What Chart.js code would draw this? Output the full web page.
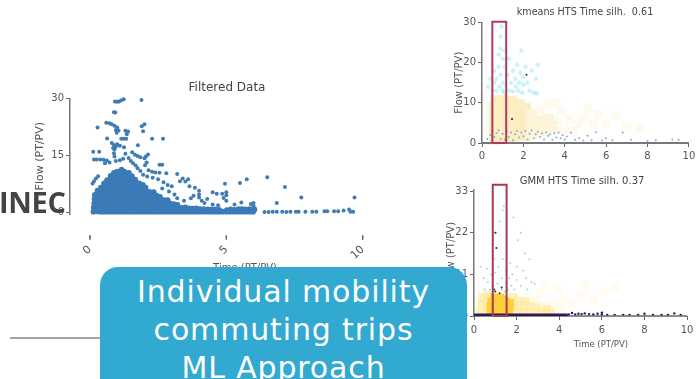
<!DOCTYPE html>
<html lang="en">
<head>
<meta charset="utf-8">
<title>Individual mobility</title>
<script src="https://cdn.jsdelivr.net/npm/chart.js@4/dist/chart.umd.min.js"></script>
<style>
  html, body { margin: 0; background: #fff; overflow: hidden; }
  body { width: 697px; height: 379px; position: relative; }
  .plot { position: absolute; filter: blur(0.55px); }
  #inec { position: absolute; left: -1px; top: 182px; font: bold 29px "Open Sans"; color: #444; letter-spacing: -0.3px; }
  #rule { position: absolute; left: 10px; top: 337px; width: 95px; height: 2px; background: #a5a5a5; }
  #box { position: absolute; left: 100px; top: 267px; width: 367px; height: 130px; border-radius: 18px; background: #31a9d0;
         color: #fff; font: 30px/38px "DejaVu Sans"; letter-spacing: 0.85px; text-align: center; padding-top: 6px; box-sizing: border-box; }
</style>
</head>
<body>
<div class="plot" style="left:30px;top:70px;width:394px;height:204px"><canvas id="filtered"></canvas></div>
<div class="plot" style="left:440px;top:0;width:290px;height:170px"><canvas id="kmeans"></canvas></div>
<div class="plot" style="left:430px;top:170px;width:304px;height:180px"><canvas id="gmm"></canvas></div>
<div id="inec">INEC</div>
<div id="rule"></div>
<div id="box">Individual mobility<br>commuting trips<br>ML Approach</div>

<script>
// left chart
var filteredTitle = 'Filtered Data';
var filteredXTicks = [0, 5, 10];
var filteredYTicks = [0, 15, 30];
var filteredMarkX = [0, 0, null, 5, 5, null, 10, 10];
var filteredMarkY = [-5.9, -7, null, -5.9, -7, null, -5.9, -7];
var filteredSparse = [
  [.92,29.2],[1,29.1],[1.07,29.2],[1.15,29.5],[1.24,29.8],[1.89,29.6],[.88,26.4],[.93,26.3],[.28,22.4],
  [.6,23.6],[.72,23.5],[.8,23.2],[.9,22.8],[1,22.4],[.95,21.7],[1.05,21.6],[.98,21],[1.3,21.5],[1.4,21.3],[1.35,20.6],
  [2,23.2],[1.9,22.7],[1.95,21.4],[2.28,19.4],[2.68,19.4],[.63,19.5],[1.15,19.4],[1.25,19.4],[1.33,19.4],
  [.8,18.3],[.88,17.8],[.95,17.3],[.85,17],[1,18],[.9,16.6],[.12,16],[.34,16],[1.76,17.7],[1.1,17.6],[1.25,17.2],
  [2.13,15.3],[2.05,14.8],[2,14.3],[.15,14],[.25,14],[.38,14],[.5,13.9],[.62,13.7],[.88,15.6],[.9,14.8],[1.3,15.5],[1.55,15.9],[1.65,15.2],[1.75,14.9],[1.85,14.6],
  [.55,13],[.72,13.2],[.95,13.6],[1.1,13.8],[1.22,14.2],[1.42,14.4],[1.5,13.6],[1.58,13],[1.68,12.4],[2.08,13.2],[2.02,12.5],
  [2.55,12.6],[2.65,12.6],[1.75,11.7],[1.85,11],[2.15,11.2],[2.28,10.8],[2.4,10.6],[2.55,10.5],[2.8,10.4],
  [1.95,10],[2.1,9.5],[2.3,9.2],[2.5,8.8],[3.2,10.2],[3.4,9],[3.3,8.3],[3.5,8.2],[3.6,8.8],[2.7,8],[2.85,7.3],[3,7],
  [.1,7.7],[.15,8.3],[.22,9],[.3,9.6],[3.65,7],[3.85,6.6],[4,5.8],[3.8,4.5],[3.7,3.8],[4,4.8],[4,4],[4.1,3.2],[4.3,3.6],
  [4.5,5.4],[4.65,5],[4.85,5],[4.9,3.9],[4.95,7.6],[5,5.4],[5,4.6],[5,3.2],[5.5,7.8],[5.55,2.7],[5.75,8.8],[6.5,9.3],[6.85,2.6],[7.15,6.8],[7.75,4],[9.7,4],
  [4.2,2.6],[4.5,2.2],[4.7,2],[5.3,2.2],[5.9,2.3],[6,2.6],[6,1.8],[3.1,4.8],[3.2,3.8],[3.45,3.2],[2.9,5.6],[2.65,6.4]
];
var filteredDense = [
  [.13,.3],[.14,1.4],[.16,2.5],[.17,3.6],[.18,4.7],[.24,.4],[.26,1.5],[.25,2.6],[.27,3.7],[.26,4.9],[.28,5.8],
  [.37,.3],[.38,1.3],[.36,2.4],[.39,3.5],[.37,4.5],[.38,5.6],[.4,6.6],[.49,.3],[.5,1.4],[.48,2.5],[.51,3.6],[.5,4.6],[.49,5.7],[.5,6.7],[.52,7.7],
  [.62,.3],[.63,1.3],[.61,2.4],[.64,3.4],[.62,4.5],[.63,5.5],[.61,6.6],[.64,7.6],[.63,8.6],[.75,.3],[.76,1.4],[.74,2.5],[.77,3.6],[.75,4.6],[.76,5.7],[.74,6.7],[.77,7.8],[.75,8.8],[.76,9.7],
  [.88,.3],[.89,1.3],[.87,2.4],[.9,3.4],[.88,4.5],[.89,5.5],[.87,6.6],[.9,7.6],[.88,8.7],[.89,9.7],[.88,10.5],
  [1.01,.3],[1.02,1.4],[1,2.5],[1.03,3.5],[1.01,4.6],[1.02,5.6],[1,6.7],[1.03,7.7],[1.01,8.8],[1.02,9.8],[1,10.8],
  [1.14,.3],[1.15,1.3],[1.13,2.4],[1.16,3.4],[1.14,4.5],[1.15,5.5],[1.13,6.6],[1.16,7.6],[1.14,8.7],[1.15,9.7],[1.13,10.8],[1.16,11.3],
  [1.27,.3],[1.28,1.4],[1.26,2.5],[1.29,3.5],[1.27,4.6],[1.28,5.6],[1.26,6.7],[1.29,7.7],[1.27,8.8],[1.28,9.8],[1.26,10.8],
  [1.4,.3],[1.41,1.3],[1.39,2.4],[1.42,3.4],[1.4,4.5],[1.41,5.5],[1.39,6.6],[1.42,7.6],[1.4,8.7],[1.41,9.7],[1.43,10.5],
  [1.53,.3],[1.54,1.4],[1.52,2.5],[1.55,3.5],[1.53,4.6],[1.54,5.6],[1.52,6.7],[1.55,7.7],[1.53,8.8],[1.54,9.6],
  [1.66,.3],[1.67,1.3],[1.65,2.4],[1.68,3.4],[1.66,4.5],[1.67,5.5],[1.65,6.6],[1.68,7.6],[1.66,8.7],
  [1.79,.3],[1.8,1.4],[1.78,2.5],[1.81,3.5],[1.79,4.6],[1.8,5.6],[1.78,6.7],[1.81,7.7],[1.92,.3],[1.93,1.3],[1.91,2.4],[1.94,3.4],[1.92,4.5],[1.93,5.5],[1.91,6.6],[1.94,7.3],
  [2.05,.3],[2.06,1.4],[2.04,2.5],[2.07,3.5],[2.05,4.6],[2.06,5.6],[2.04,6.6],[2.18,.3],[2.19,1.3],[2.17,2.4],[2.2,3.4],[2.18,4.5],[2.19,5.5],
  [2.31,.3],[2.32,1.4],[2.3,2.5],[2.33,3.5],[2.31,4.6],[2.34,5.4],[2.44,.3],[2.45,1.3],[2.43,2.4],[2.46,3.4],[2.44,4.5],
  [2.57,.3],[2.58,1.4],[2.56,2.5],[2.59,3.5],[2.57,4.2],[2.7,.3],[2.71,1.3],[2.69,2.4],[2.72,3.3],[2.83,.3],[2.84,1.4],[2.82,2.5],[2.85,3.3],
  [2.96,.3],[2.97,1.3],[2.95,2.4],[3.09,.3],[3.1,1.4],[3.08,2.3],[3.22,.3],[3.23,1.3],[3.21,2.1],[3.35,.3],[3.36,1.3],[3.48,.3],[3.5,1.4],[3.62,.3],[3.63,1.2],
  [3.75,.3],[3.76,1.1],[3.88,.3],[3.9,1.2],[4.02,.3],[4.04,1],[4.16,.3],[4.18,1],[4.3,.3],[4.32,.9],[4.44,.3],[4.46,.9],[4.58,.3],[4.6,.9],[4.72,.3],[4.74,.8],[4.86,.3],
  [5,.3],[5.02,.7],[5.14,.3],[5.16,.9],[5.28,.3],[5.3,.8],[5.42,.3],[5.44,1],[5.56,.3],[5.58,1],[5.7,.3],[5.72,.9],[5.84,.3],[5.86,1],[5.98,.3],[6.03,.9]
];
var filteredTail = [
  [6.4,.2],[6.55,.2],[6.7,.3],[6.85,.3],[7.05,.3],[7.2,.2],[7.35,.3],[7.55,.3],[7.65,.3],[7.9,.3],[8.15,.3],[8.3,.3],[8.6,.4],[8.7,.4],[8.95,.4],[9.1,.4],[9.3,.6],[9.5,.9],[9.55,.3],[9.65,.3]
];

// top right chart
var kmeansTitle = 'kmeans HTS Time silh.  0.61';
var kmeansXTicks = [0, 2, 4, 6, 8, 10];
var kmeansYTicks = [0, 10, 20, 30];
var kmeansAxisX = [0, 10];
var kmeansAxisY = [0, 0];
var kmeansBoxX = [.5, .5, 1.17, 1.17, .5];
var kmeansBoxY = [0, 30.2, 30.2, 0, 0];
var kmeansYellow = [
  [.6,1],[.6,3],[.6,5],[.6,7],[.6,9],[.7,10.5],[.9,1.5],[.9,4],[.9,6.5],[.9,9],[1,10.5],[1.2,2],[1.2,4.5],[1.2,7],[1.2,9.5],[1.4,10.4],
  [1.5,1.5],[1.5,4],[1.5,6],[1.5,8.5],[1.8,2],[1.8,4.5],[1.8,7],[1.8,9.5],[2.1,2],[2.1,4],[2.1,6.5],[2.1,8.5]
];
var kmeansOuter = [
  [2.4,2.5],[2.4,5],[2.4,7],[2.7,3],[2.7,5.5],[3,3],[3,5],[3.2,6],[3.4,4]
];
var kmeansPale = [
  [3.6,3],[3.7,5.5],[3.8,8],[4,3.5],[4.2,6],[4.4,3],[4.6,4.5],[4.9,6],[5.1,8.5],[5.4,5],[5.6,7.2],[6,5],[6.5,7],[7,4],[7.6,3.5],[2.8,8.5],[3.2,9.5],[3.6,10]
];
var kmeansCyan = [
  [.3,14],[.4,16],[.5,13],[.6,15],[.6,18],[.7,13],[.7,16],[.8,22],[.8,19],[.85,14],[.9,23.5],[.9,17],[1,21],[1,15],[1,13],[1.1,19],[1.1,12.5],[1.1,23],[1.25,17],[1.3,13],[1.3,21],
  [1.4,15],[1.5,12.8],[1.5,18],[1.6,16],[1.65,14],[1.7,19.5],[1.75,13],[1.8,15],[1.85,17.5],[1.9,23],[1.95,12.5],[2,14.5],[2,16.5],[2.1,19],[2.2,15],[2.3,13],[2.4,18],[2.5,12.5],[2.6,16],[2.7,19.5],[2.65,12.4],[.95,29],[.9,26.5]
];
var kmeansBlue = [
  [.25,1],[.4,2],[.5,3],[.6,1.5],[.7,2.5],[.8,3.2],[.9,1],[1,2.3],[1.1,.8],[1.2,3],[1.3,1.5],[1.4,2.6],[1.5,.7],[1.6,2.2],[1.7,3],[1.8,1.4],[1.9,2.6],[2,1.7],[2.1,3],[2.2,.9],[2.3,2.3],
  [2.4,3.1],[2.5,1.2],[2.6,2.2],[2.7,2.8],[2.8,1.5],[2.9,2.4],[3,.9],[3.1,2.7],[3.2,1.8],[3.3,2.2],[3.4,.8],[3.5,2.4],[3.6,1.4],[3.7,2.6],[3.8,1.2],[3.9,2],[4,.9],[4.1,1.6],[4.3,2.6],[4.5,.8],[4.7,1.2],[4.9,.6],[5.1,1.8],[5.3,.7],[5.5,2.7],[5.8,.6],[6,1.2],[6.8,2.6],[6.3,.7],[7.2,.8],[8,.5],[8.4,.7],[9.2,.9],[9.5,.8]
];
var kmeansBlack = [[2.15,17],[1.45,6]];

// bottom right chart
var gmmTitle = 'GMM HTS Time silh. 0.37';
var timeTitle = 'Time (PT/PV)';
var flowTitle = 'Flow (PT/PV)';
var gmmXTicks = [0, 2, 4, 6, 8, 10];
var gmmYTicks = [0, 11, 22, 33];
var gmmAxisX = [0, 10];
var gmmAxisY = [0, 0];
var gmmBandX = [0, 4.4];
var gmmBandY = [.35, .35];
var gmmBoxX = [.88, .88, 1.53, 1.53, .88];
var gmmBoxY = [0, 34.7, 34.7, 0, 0];
var gmmGold = [
  [.95,1],[.95,2.5],[.95,4],[.95,5],[1.1,1.5],[1.1,3],[1.1,4.5],[1.25,1],[1.25,2.5],[1.25,4],[1.25,5],[1.4,1.5],[1.4,3],[1.4,4.5],[1.5,1],[1.5,2.5],[1.5,4],
  [.75,1.2],[.75,2.8],[.8,4],[1.65,1],[1.7,2.3],[1.7,3.6]
];
var gmmYellow = [
  [.3,1],[.35,3],[.4,5],[.55,1.5],[.6,3.5],[.65,5.5],[1.75,1],[1.8,3],[1.85,5],[2,1],[2.05,2.5],[2.1,4],[2.3,1],[2.35,2.5],[2.4,3.8],[2.6,1],[2.65,2.6],[2.9,1],[2.95,2.2],[3.2,1],[3.4,1.8],[3.6,1.1]
];
var gmmPale = [
  [2.5,5],[2.9,4],[3.3,3],[3.1,6],[3.7,3.5],[4,2],[4.2,4],[4.6,3.2],[5,5.5],[5.6,4],[6.1,6.5],[6.6,7.5],[5.2,8],[4,7],[3.3,8]
];
var gmmTeal = [
  [.3,13],[.45,10],[.5,7],[.6,12.5],[.65,9],[.75,7],[.8,11],[.9,8],[.95,15],[1,6.5],[1,11.5],[1.05,18],[1.05,22],[1.1,8.5],[1.15,13],[1.2,25],[1.3,7],[1.3,10],[1.35,15],[1.35,28],[1.4,29],[1.45,6.5],
  [1.5,9],[1.5,12],[1.6,7],[1.65,10],[1.7,14],[1.75,8],[1.8,11],[1.9,7],[2,9.5],[2,13],[2.05,20],[2.2,8],[2.3,12],[2.4,16.5],[2.45,10],[2.5,7],[2.6,15],[2.7,9],[2.85,8.5],[1.85,26],[2.2,22]
];
var gmmDark = [
  [4.45,.4],[4.6,.8],[4.75,.4],[4.9,.6],[5.05,.5],[5.2,.7],[5.4,.5],[5.6,.4],[5.8,.6],[6,.9],[6,.4],[6.25,.3],[6.6,.3],[7,.3],[7.3,.3],[7.7,.3],[8,.6],[8.4,.3],[8.8,.3],[9.1,.3],[9.4,.7],[9.7,.3]
];
var gmmBlack = [[1,22],[1.05,18],[.95,7],[1,6.5],[1.2,6],[1.3,7.5]];

Chart.defaults.font.family = '"DejaVu Sans"';
Chart.defaults.color = '#555';
Chart.defaults.animation = false;

function pts(list) {
  return list.map(function (p) { return { x: p[0], y: p[1] }; });
}
function zipped(xs, ys) {
  return xs.map(function (x, i) { return { x: x, y: ys[i] }; });
}
function dots(list, color, radius) {
  return { data: pts(list), backgroundColor: color, pointBorderWidth: 0, pointRadius: radius, clip: false };
}
function blocks(list, color, radius) {
  return { data: pts(list), backgroundColor: color, pointBorderWidth: 0, pointRadius: radius, pointStyle: 'rect', clip: false };
}
function path(xs, ys, color, width) {
  return { data: zipped(xs, ys), showLine: true, borderColor: color, borderWidth: width, pointRadius: 0, clip: false };
}

function axis(o) {
  return {
    type: 'linear', min: o.min, max: o.max,
    afterBuildTicks: function (s) { s.ticks = o.ticks.map(function (v) { return { value: v }; }); },
    afterFit: function (s) {
      if (o.width) s.width = o.width;
      if (o.height) s.height = o.height;
      s.paddingLeft = s.paddingRight = s.paddingTop = s.paddingBottom = 0;
    },
    grid: { drawOnChartArea: false, drawTicks: o.marks !== false, tickLength: 4, color: '#666' },
    border: { display: o.line !== false, color: '#777', width: 1.5 },
    ticks: { font: { size: o.size || 10 }, padding: o.pad === undefined ? 2 : o.pad, minRotation: o.rot || 0, maxRotation: o.rot || 0, color: '#555' },
    title: o.title ? { display: true, text: o.title, font: { size: o.titleSize || 9 }, color: '#555', padding: o.titlePad || 0 } : { display: false }
  };
}

function draw(id, w, h, title, titleSize, titlePad, datasets, xo, yo) {
  var c = document.getElementById(id);
  c.width = w;
  c.height = h;
  return new Chart(c, {
    type: 'scatter',
    data: { datasets: datasets },
    options: {
      responsive: false,
      devicePixelRatio: 1,
      plugins: {
        legend: { display: false }, tooltip: { enabled: false },
        title: { display: true, text: title, color: '#444', font: { size: titleSize, weight: 'normal' }, padding: titlePad }
      },
      scales: { x: axis(xo), y: axis(yo) }
    }
  });
}

draw('filtered', 394, 204, filteredTitle, 12, { top: 11, bottom: 3 }, [
  path(filteredMarkX, filteredMarkY, '#666', 1),
  dots(filteredTail, '#3f7cb2', 2),
  dots(filteredSparse, '#3f7cb2', 2),
  dots(filteredDense, '#3a7bb7', 2.9)
], { min: -0.73, max: 12.1, ticks: filteredXTicks, rot: 45, pad: 29, marks: false, line: false, height: 60, title: timeTitle, size: 11, titleSize: 10 },
   { min: -0.3, max: 30, ticks: filteredYTicks, width: 40, title: flowTitle, titleSize: 11, titlePad: { top: 4 } });

draw('kmeans', 290, 170, kmeansTitle, 9.6, { top: 7, bottom: 4 }, [
  path(kmeansBoxX, kmeansBoxY, '#b4385a', 2),
  dots(kmeansBlack, '#222', 1),
  path(kmeansAxisX, kmeansAxisY, '#777', 2),
  dots(kmeansBlue, '#8aa8d8', 1),
  dots(kmeansCyan, 'rgba(130,225,235,.42)', 2.2),
  blocks(kmeansPale, 'rgba(253,243,215,.4)', 6),
  blocks(kmeansOuter, '#fef4da', 8),
  blocks(kmeansYellow, '#fdeec2', 8)
], { min: 0, max: 11.6, ticks: kmeansXTicks, height: 27, pad: 3, line: false },
   { min: 0, max: 30, ticks: kmeansYTicks, width: 42, title: flowTitle, titleSize: 10, titlePad: { top: 13 } });

draw('gmm', 304, 180, gmmTitle, 10, { top: 5, bottom: 3 }, [
  path(gmmBoxX, gmmBoxY, '#a93a4f', 2),
  dots(gmmBlack, '#333', 1),
  path(gmmBandX, gmmBandY, '#2b1a55', 2.5),
  path(gmmAxisX, gmmAxisY, '#666', 1.5),
  dots(gmmDark, '#2b1a55', 1.2),
  dots(gmmTeal, 'rgba(90,170,190,.5)', 1),
  blocks(gmmGold, '#ffcf3a', 5),
  blocks(gmmYellow, 'rgba(254,236,165,.8)', 6),
  blocks(gmmPale, 'rgba(254,247,220,.45)', 6)
], { min: 0, max: 11.92, ticks: gmmXTicks, height: 34, pad: 4, title: timeTitle, titleSize: 8.5, line: false },
   { min: 0, max: 33.3, ticks: gmmYTicks, width: 44, title: flowTitle, titleSize: 10, titlePad: { top: 15 } });
</script>
</body>
</html>
